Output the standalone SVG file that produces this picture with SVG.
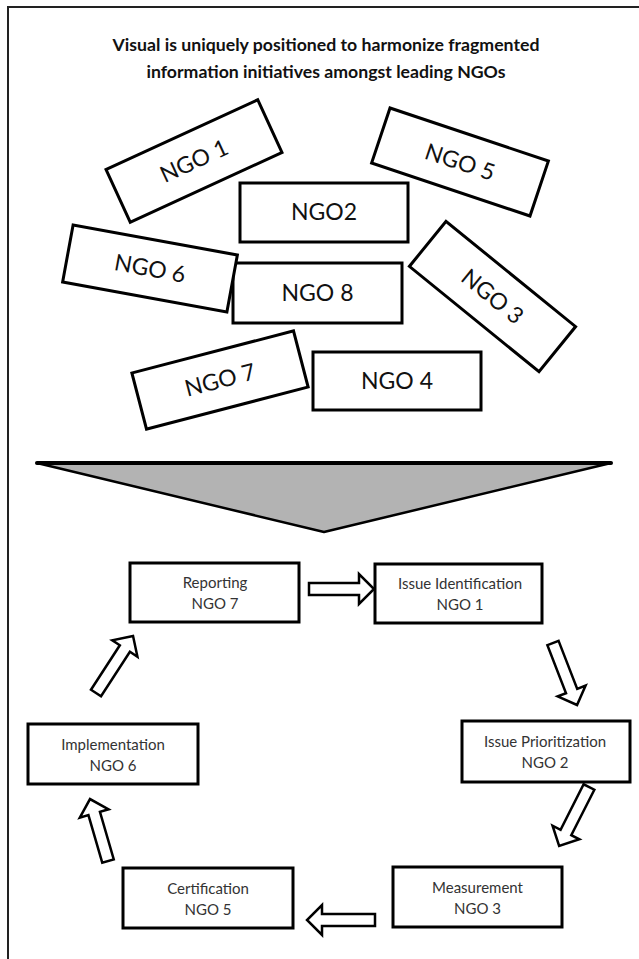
<svg xmlns="http://www.w3.org/2000/svg" width="639" height="959" viewBox="0 0 639 959">
<style>
.frame{fill:none;stroke:#222;stroke-width:2}
.ngo rect{fill:#fff;stroke:#000;stroke-width:3}
.ngo text{font-family:Lato,"Open Sans","Liberation Sans",sans-serif;font-size:23px;fill:#111;text-anchor:middle}
.step rect{fill:#fff;stroke:#000;stroke-width:3}
.step text{font-family:Lato,"Open Sans","Liberation Sans",sans-serif;font-size:15px;fill:#333;text-anchor:middle}
.title{font-family:Lato,"Open Sans","Liberation Sans",sans-serif;font-weight:bold;font-size:17.7px;fill:#111;text-anchor:middle}
.arr{fill:#fff;stroke:#000;stroke-width:2.5;stroke-linejoin:miter}
</style>
<rect width="639" height="959" fill="#fff"/>
<path class="frame" d="M7,7 H639 M8,7 V959"/>
<text class="title" x="326" y="51">Visual is uniquely positioned to harmonize fragmented</text>
<text class="title" x="326" y="78">information initiatives amongst leading NGOs</text>

<g id="ngo1" class="ngo" transform="translate(194,161) rotate(-24.7)"><rect x="-83.5" y="-29" width="167" height="58"/><text x="0" y="8">NGO 1</text></g>
<g id="ngo5" class="ngo" transform="translate(460,162) rotate(18.5)"><rect x="-83.5" y="-29" width="167" height="58"/><text x="0" y="8">NGO 5</text></g>
<g id="ngo2" class="ngo"><rect x="240" y="183" width="168" height="59"/><text x="324" y="220">NGO2</text></g>
<g id="ngo3" class="ngo" transform="translate(492.5,296.5) rotate(39.1)"><rect x="-83.5" y="-29" width="167" height="58"/><text x="0" y="8">NGO 3</text></g>
<g id="ngo8" class="ngo"><rect x="233" y="263" width="169" height="60"/><text x="317.5" y="301">NGO 8</text></g>
<g id="ngo6" class="ngo" transform="translate(150,268.5) rotate(10.4)"><rect x="-83.5" y="-29" width="167" height="58"/><text x="0" y="8">NGO 6</text></g>
<g id="ngo4" class="ngo"><rect x="313" y="352" width="168" height="58"/><text x="397" y="389">NGO 4</text></g>
<g id="ngo7" class="ngo" transform="translate(220,380) rotate(-14.6)"><rect x="-83.5" y="-29" width="167" height="58"/><text x="0" y="8">NGO 7</text></g>

<g id="funnel"><polygon points="37,463 611,463 324,532" fill="#b3b3b3" stroke="#000" stroke-width="2.5" stroke-linejoin="round"/><line x1="37" y1="463" x2="611" y2="463" stroke="#000" stroke-width="4" stroke-linecap="round"/></g>

<g id="reporting" class="step"><rect x="130" y="563" width="169" height="59"/><text x="215" y="588">Reporting</text><text x="215" y="609">NGO 7</text></g>
<g id="issue-identification" class="step"><rect x="375" y="564" width="167" height="59"/><text x="460" y="589">Issue Identification</text><text x="460" y="610">NGO 1</text></g>
<g id="issue-prioritization" class="step"><rect x="462" y="721" width="168" height="61"/><text x="545" y="747">Issue Prioritization</text><text x="545" y="768">NGO 2</text></g>
<g id="measurement" class="step"><rect x="393" y="867" width="169" height="60"/><text x="477.5" y="893">Measurement</text><text x="477.5" y="914">NGO 3</text></g>
<g id="certification" class="step"><rect x="123" y="868" width="170" height="60"/><text x="208" y="894">Certification</text><text x="208" y="915">NGO 5</text></g>
<g id="implementation" class="step"><rect x="28" y="724" width="170" height="60"/><text x="113" y="750">Implementation</text><text x="113" y="771">NGO 6</text></g>

<g id="connectors">
<polygon class="arr" transform="translate(309,589)" points="0,-6 50,-6 50,-15 65,0 50,15 50,6 0,6"/>
<polygon class="arr" transform="translate(553,643) rotate(68.8)" points="0,-6 51.5,-6 51.5,-15 66.5,0 51.5,15 51.5,6 0,6"/>
<polygon class="arr" transform="translate(589,787) rotate(116.9)" points="0,-6 51,-6 51,-15 66,0 51,15 51,6 0,6"/>
<polygon class="arr" transform="translate(375,920) rotate(180)" points="0,-6 53,-6 53,-15 68,0 53,15 53,6 0,6"/>
<polygon class="arr" transform="translate(108,861) rotate(-106.2)" points="0,-6 49.5,-6 49.5,-15 64.5,0 49.5,15 49.5,6 0,6"/>
<polygon class="arr" transform="translate(96,693) rotate(-57)" points="0,-6 53,-6 53,-15 68,0 53,15 53,6 0,6"/>
</g>
</svg>
